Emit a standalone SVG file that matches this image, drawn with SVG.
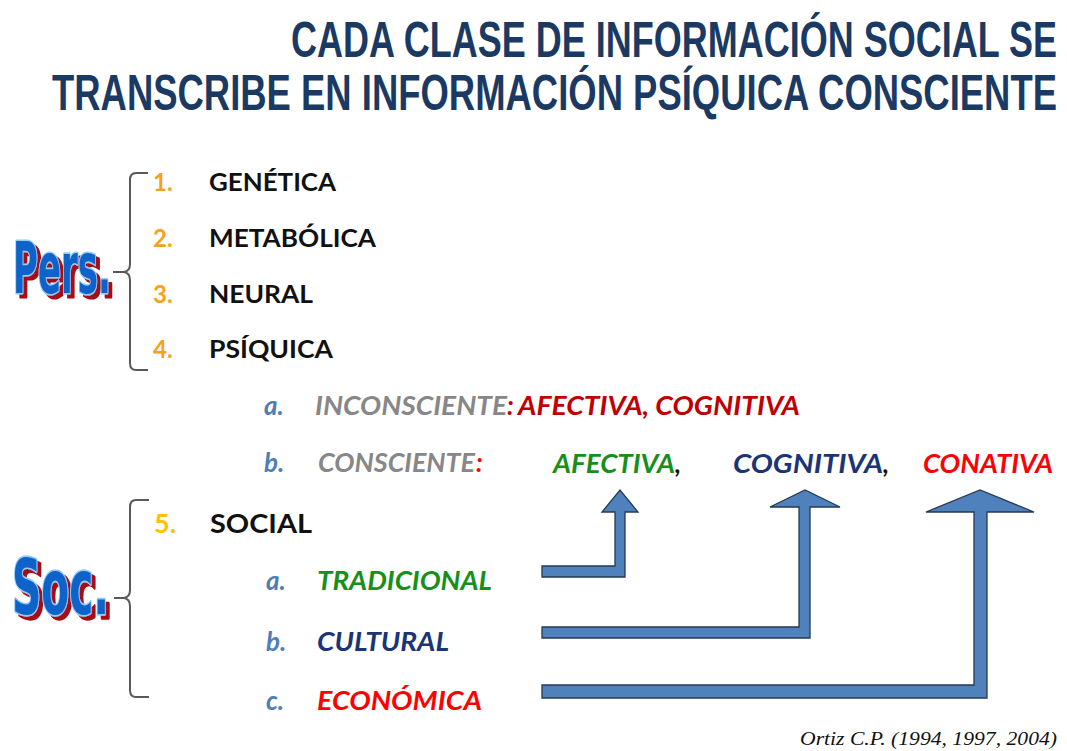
<svg xmlns="http://www.w3.org/2000/svg" width="1067" height="751" viewBox="0 0 1067 751">
<style>
.title{font-family:"Liberation Sans",Arial,sans-serif;font-weight:bold;font-size:32px;fill:#1B3A63}
.big{font-family:"DejaVu Sans","Liberation Sans",sans-serif;font-weight:bold;fill:#1163C9;stroke:#95CBF8;stroke-width:2;paint-order:stroke;stroke-linejoin:round}
.num{font-family:Lato,"Open Sans",sans-serif;font-weight:bold;font-size:24px;fill:#F9A11B}
.item{font-family:Lato,"Open Sans",sans-serif;font-weight:bold;font-size:24px;fill:#111}
.sub{font-family:Lato,"Open Sans",sans-serif;font-weight:bold;font-style:italic;font-size:26px}
.let{fill:#4F7DB5}
.grey{fill:#878787}
.dred{fill:#C00000}
.red{fill:#FF0000}
.green{fill:#17901A}
.navy{fill:#1A3475}
.blk{fill:#111}
.brace{fill:none;stroke:#595959;stroke-width:2}
.arrow{fill:#4F81BD;stroke:#263A52;stroke-width:1.3;stroke-linejoin:miter}
.credit{font-family:"Liberation Serif","Times New Roman",serif;font-style:italic;font-size:19px;fill:#111}
</style>
<defs>
<filter id="redShadow" x="-10%" y="-10%" width="130%" height="130%">
<feOffset in="SourceAlpha" dx="4" dy="2.6" result="off"/>
<feFlood flood-color="#A80E12"/>
<feComposite in2="off" operator="in" result="sh"/>
<feMerge><feMergeNode in="sh"/><feMergeNode in="SourceGraphic"/></feMerge>
</filter>
</defs>

<g id="title">
<text class="title" transform="translate(291,57) scale(1,1.5625)" x="0" y="0" textLength="766" lengthAdjust="spacingAndGlyphs">CADA CLASE DE INFORMACIÓN SOCIAL SE</text>
<text class="title" transform="translate(52,110) scale(1,1.5625)" x="0" y="0" textLength="1005" lengthAdjust="spacingAndGlyphs">TRANSCRIBE EN INFORMACIÓN PSÍQUICA CONSCIENTE</text>
</g>

<g id="pers-label">
<text class="big" transform="translate(13,293) scale(1,1.6)" x="0" y="0" font-size="44" filter="url(#redShadow)" textLength="98" lengthAdjust="spacingAndGlyphs">Pers.</text>
</g>

<g id="soc-label">
<text class="big" transform="translate(12,614) scale(1,1.65)" x="0" y="0" font-size="46" filter="url(#redShadow)" textLength="97" lengthAdjust="spacingAndGlyphs">Soc.</text>
</g>

<g id="braces">
<path class="brace" d="M148,173 H136 Q130,173 130,180 V264 Q130,271 124,272 H113 M124,272 Q130,273 130,280 V363 Q130,370 136,370 H148"/>
<path class="brace" d="M149,500 H136 Q130,500 130,507 V590 Q130,597 124,598 H114 M124,598 Q130,599 130,606 V690 Q130,697 136,697 H149"/>
</g>

<g id="item-1">
<text class="num" x="153" y="191">1.</text>
<text class="item" x="209" y="191" textLength="127" lengthAdjust="spacingAndGlyphs">GENÉTICA</text>
</g>
<g id="item-2">
<text class="num" x="153" y="247">2.</text>
<text class="item" x="209" y="247" textLength="167" lengthAdjust="spacingAndGlyphs">METABÓLICA</text>
</g>
<g id="item-3">
<text class="num" x="153" y="303">3.</text>
<text class="item" x="209" y="303" textLength="104" lengthAdjust="spacingAndGlyphs">NEURAL</text>
</g>
<g id="item-4">
<text class="num" x="153" y="358">4.</text>
<text class="item" x="209" y="358" textLength="124" lengthAdjust="spacingAndGlyphs">PSÍQUICA</text>
</g>

<g id="item-4a">
<text class="sub let" x="264" y="415">a.</text>
<text class="sub grey" x="315" y="415" textLength="192" lengthAdjust="spacingAndGlyphs">INCONSCIENTE</text>
<text class="sub dred" x="507" y="415">:</text>
<text class="sub dred" x="518" y="415" textLength="282" lengthAdjust="spacingAndGlyphs">AFECTIVA, COGNITIVA</text>
</g>

<g id="item-4b">
<text class="sub let" x="264" y="472">b.</text>
<text class="sub grey" x="318" y="472" textLength="157" lengthAdjust="spacingAndGlyphs">CONSCIENTE</text>
<text class="sub red" x="476" y="472">:</text>
</g>

<g id="target-afectiva">
<text class="sub green" x="553" y="473" textLength="122" lengthAdjust="spacingAndGlyphs">AFECTIVA</text>
<text class="sub blk" x="675" y="473">,</text>
</g>
<g id="target-cognitiva">
<text class="sub navy" x="733" y="473" textLength="150" lengthAdjust="spacingAndGlyphs">COGNITIVA</text>
<text class="sub blk" x="883" y="473">,</text>
</g>
<g id="target-conativa">
<text class="sub red" x="923" y="473" textLength="130" lengthAdjust="spacingAndGlyphs">CONATIVA</text>
</g>

<g id="item-5">
<text class="num" x="154" y="533" style="fill:#FFC000;font-size:27px">5.</text>
<text class="item" x="210" y="533" style="font-size:27px" textLength="102" lengthAdjust="spacingAndGlyphs">SOCIAL</text>
</g>

<g id="item-5a">
<text class="sub let" x="266" y="590">a.</text>
<text class="sub green" x="317" y="590" textLength="175" lengthAdjust="spacingAndGlyphs">TRADICIONAL</text>
</g>
<g id="item-5b">
<text class="sub let" x="266" y="651">b.</text>
<text class="sub navy" x="317" y="651" textLength="132" lengthAdjust="spacingAndGlyphs">CULTURAL</text>
</g>
<g id="item-5c">
<text class="sub let" x="266" y="710">c.</text>
<text class="sub red" x="317" y="710" textLength="165" lengthAdjust="spacingAndGlyphs">ECONÓMICA</text>
</g>

<g id="connectors">
<polygon class="arrow" points="542,566 615,566 615,512 602,512 620,490 638,512 625,512 625,577 542,577"/>
<polygon class="arrow" points="542,627 799,627 799,507 770,507 805,490 840,507 810,507 810,638 542,638"/>
<polygon class="arrow" points="542,685 974,685 974,512 926,512 980,490 1034,512 987,512 987,698 542,698"/>
</g>

<g id="credit">
<text class="credit" x="800" y="745" textLength="257" lengthAdjust="spacingAndGlyphs">Ortiz C.P. (1994, 1997, 2004)</text>
</g>
</svg>
